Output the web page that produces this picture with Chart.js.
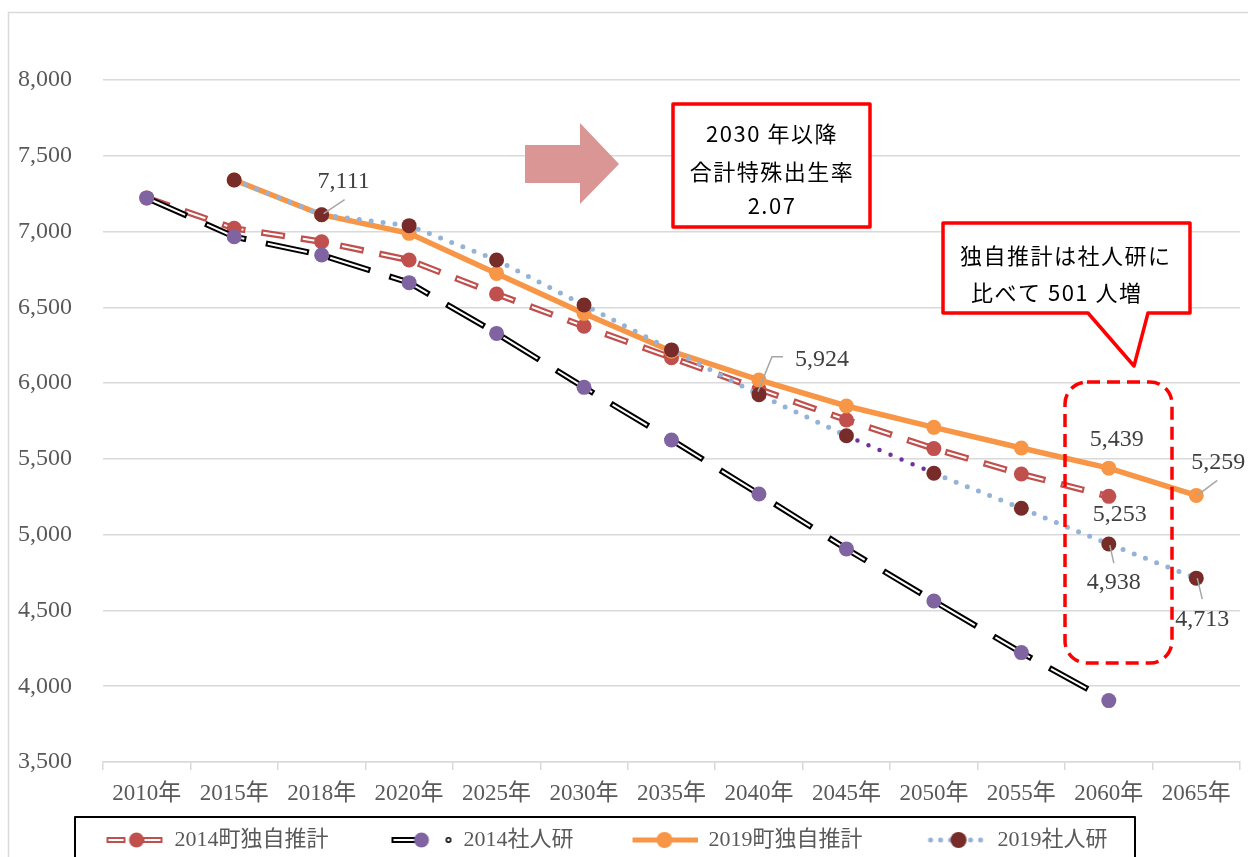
<!DOCTYPE html>
<html><head><meta charset="utf-8">
<script src="https://cdn.jsdelivr.net/npm/chart.js@4/dist/chart.umd.min.js"></script>
<style>html,body{margin:0;padding:0;background:#fff;} canvas{display:block;}</style>
</head><body>
<canvas id="c" width="1248" height="857"></canvas>
<script>
// ---------- data ----------
const categories = ['2010年','2015年','2018年','2020年','2025年','2030年','2035年','2040年','2045年','2050年','2055年','2060年','2065年'];
const seriesNames = ['2014町独自推計','2014社人研','2019町独自推計','2019社人研'];
const town2014 = [7222,7021,6933,6812,6588,6375,6168,5960,5757,5568,5400,5253,null];
const ipss2014 = [7222,6966,6845,6663,6328,5972,5625,5268,4906,4562,4222,3905,null];
const town2019 = [null,7340,7111,6988,6724,6460,6210,6021,5849,5708,5572,5439,5259];
const ipss2019 = [null,7340,7111,7039,6812,6515,6219,5924,5653,5405,5174,4938,4713];
const yMin = 3500, yMax = 8000, yStep = 500;
const boxText1 = ['2030 年以降','合計特殊出生率','2.07'];
const boxText2 = ['独自推計は社人研に','比べて 501 人増'];

// ---------- styles ----------
const C_RED = '#C0504D', C_PURPLE = '#8064A2', C_ORANGE = '#F79646', C_BLUE = '#95B3D7', C_DARK = '#772C2A', C_VIOLET = '#7030A0';
const SERIF = "'Liberation Serif', 'Noto Sans CJK JP', serif";
const SANS = "'Noto Sans CJK JP', sans-serif";
const ICON_W = 107;

function icon(contentW, draw) {
  const c = document.createElement('canvas'); c.width = ICON_W; c.height = 20;
  const g = c.getContext('2d'); g.translate(ICON_W - contentW, 0); draw(g); return c;
}
function dot(g, x, y, r, col) { g.beginPath(); g.arc(x, y, r, 0, Math.PI*2); g.fillStyle = col; g.fill(); }
const legendIcons = {
  1: icon(58, g => {
    g.strokeStyle = C_RED; g.lineWidth = 6;
    g.beginPath(); g.moveTo(1,10); g.lineTo(20,10); g.moveTo(37,10); g.lineTo(57,10); g.stroke();
    g.strokeStyle = '#fff'; g.lineWidth = 2;
    g.beginPath(); g.moveTo(3,10); g.lineTo(18,10); g.moveTo(39,10); g.lineTo(55,10); g.stroke();
    dot(g, 31, 10, 7.5, C_RED);
  }),
  3: icon(62, g => {
    g.strokeStyle = '#000'; g.lineWidth = 6;
    g.beginPath(); g.moveTo(1,10); g.lineTo(38,10); g.stroke();
    g.strokeStyle = '#fff'; g.lineWidth = 2;
    g.beginPath(); g.moveTo(3,10); g.lineTo(36,10); g.stroke();
    dot(g, 31, 10, 7.5, C_PURPLE);
    g.beginPath(); g.arc(58, 10, 2.2, 0, Math.PI*2); g.strokeStyle = '#000'; g.lineWidth = 1.5; g.stroke();
  }),
  4: icon(65, g => {
    g.strokeStyle = C_ORANGE; g.lineWidth = 5;
    g.beginPath(); g.moveTo(0,10); g.lineTo(65,10); g.stroke();
    dot(g, 32, 10, 8, C_ORANGE);
  }),
  5: icon(60, g => {
    [2,12,22,42,52].forEach(x => dot(g, x+2, 10, 2.5, C_BLUE));
    dot(g, 32, 10, 8, C_DARK);
  })
};

const labelSpecs = [
  {data: ipss2019, i: 2, dx: 22, dy: -33, leader: [[2,-1],[23,-15]]},
  {data: ipss2019, i: 7, dx: 63, dy: -35, leader: [[-1,-3],[13,-38],[24,-38]]},
  {data: town2019, i: 11, dx: 8, dy: -28},
  {data: town2014, i: 11, dx: 11, dy: 18},
  {data: ipss2019, i: 11, dx: 5, dy: 39, leader: [[1,1],[5,19]]},
  {data: town2019, i: 12, dx: 22, dy: -33, leader: [[1,0],[21,-15]]},
  {data: ipss2019, i: 12, dx: 6, dy: 42, leader: [[1,0],[6,21]]}
];

const decor = {
  id: 'decor',
  afterLayout(chart) {
    const lg = chart.legend;
    if (lg) { lg.left -= 38; lg.right -= 38; }
  },
  beforeDraw(chart) {
    const ctx = chart.ctx;
    ctx.save();
    ctx.fillStyle = '#fff'; ctx.fillRect(0, 0, chart.width, chart.height);
    ctx.strokeStyle = '#d9d9d9'; ctx.lineWidth = 1.5;
    ctx.strokeRect(8.5, 12.5, 1400, 1000);
    ctx.restore();
  },
  afterDraw(chart) {
    const ctx = chart.ctx, xs = chart.scales.x, ys = chart.scales.y;
    ctx.save();
    // value labels
    ctx.font = '24px ' + SERIF; ctx.textAlign = 'center'; ctx.textBaseline = 'middle';
    labelSpecs.forEach(s => {
      const px = xs.getPixelForValue(s.i), py = ys.getPixelForValue(s.data[s.i]);
      if (s.leader) {
        ctx.strokeStyle = '#A6A6A6'; ctx.lineWidth = 1.5; ctx.beginPath();
        s.leader.forEach((p, k) => k ? ctx.lineTo(px+p[0], py+p[1]) : ctx.moveTo(px+p[0], py+p[1]));
        ctx.stroke();
      }
      ctx.fillStyle = '#404040';
      ctx.fillText(s.data[s.i].toLocaleString('en-US'), px + s.dx, py + s.dy);
    });
    // arrow
    ctx.fillStyle = '#D99694';
    ctx.beginPath();
    [[525,145],[580,145],[580,123],[619,164],[580,204],[580,183],[525,183]].forEach((p,k)=> k?ctx.lineTo(p[0],p[1]):ctx.moveTo(p[0],p[1]));
    ctx.closePath(); ctx.fill();
    // text box 1
    ctx.fillStyle = '#fff'; ctx.strokeStyle = '#FF0000'; ctx.lineWidth = 3.5; ctx.lineJoin = 'round';
    ctx.fillRect(673, 104, 197, 123); ctx.strokeRect(673, 104, 197, 123);
    ctx.fillStyle = '#000'; ctx.font = '22px ' + SANS; ctx.textAlign = 'center';
    try { ctx.letterSpacing = '1.5px'; } catch(e) {}
    ctx.fillText(boxText1[0], 772, 134);
    ctx.fillText(boxText1[1], 772, 172);
    ctx.fillText(boxText1[2], 772, 206);
    // callout
    ctx.fillStyle = '#fff'; ctx.strokeStyle = '#FF0000';
    ctx.beginPath();
    [[943,223],[1190,223],[1190,313],[1148,313],[1134,366],[1088,313],[943,313]].forEach((p,k)=> k?ctx.lineTo(p[0],p[1]):ctx.moveTo(p[0],p[1]));
    ctx.closePath(); ctx.fill(); ctx.stroke();
    ctx.fillStyle = '#000'; ctx.textAlign = 'left';
    ctx.fillText(boxText2[0], 960, 256);
    ctx.fillText(boxText2[1], 971, 293);
    try { ctx.letterSpacing = '0px'; } catch(e) {}
    // dashed rounded rect
    ctx.setLineDash([13, 7]); ctx.lineWidth = 3.5; ctx.strokeStyle = '#FF0000';
    ctx.beginPath(); ctx.roundRect(1065, 382, 107, 281, 22); ctx.stroke();
    ctx.setLineDash([]);
    // legend frame
    ctx.strokeStyle = '#000'; ctx.lineWidth = 2;
    ctx.strokeRect(75, 817, 1060, 100);
    ctx.restore();
  }
};

const dsBase = { pointBorderWidth: 0, pointHoverRadius: 8, spanGaps: false, fill: false, tension: 0 };
const datasets = [
  Object.assign({}, dsBase, { label: '', data: town2014, borderColor: C_RED, borderWidth: 6.5, borderDash: [24,16], pointRadius: 0, order: 8 }),
  Object.assign({}, dsBase, { label: seriesNames[0], data: town2014, borderColor: '#fff', borderWidth: 2, borderDash: [20,20], borderDashOffset: -2, pointRadius: 7.5, pointBackgroundColor: C_RED, order: 7 }),
  Object.assign({}, dsBase, { label: '', data: ipss2014, borderColor: '#000', borderWidth: 6, borderDash: [44,20], pointRadius: 0, order: 6 }),
  Object.assign({}, dsBase, { label: seriesNames[1], data: ipss2014, borderColor: '#fff', borderWidth: 2, borderDash: [40,24], borderDashOffset: -2, pointRadius: 7.5, pointBackgroundColor: C_PURPLE, order: 5 }),
  Object.assign({}, dsBase, { label: seriesNames[2], data: town2019, borderColor: C_ORANGE, borderWidth: 5.5, pointRadius: 7.5, pointBackgroundColor: C_ORANGE, order: 4 }),
  Object.assign({}, dsBase, { label: seriesNames[3], data: ipss2019, borderColor: C_BLUE, borderWidth: 5, borderDash: [0, 12], borderCapStyle: 'round', pointRadius: 7.5, pointBackgroundColor: C_DARK, order: 3,
    segment: { borderColor: c => c.p0DataIndex === 8 ? C_VIOLET : undefined, borderWidth: c => c.p0DataIndex === 8 ? 4.5 : undefined } })
];

new Chart(document.getElementById('c'), {
  type: 'line',
  data: { labels: categories, datasets },
  options: {
    responsive: false, animation: false, devicePixelRatio: 1,
    layout: { padding: { left: 0, right: 8, top: 80, bottom: -4 } },
    plugins: {
      tooltip: { enabled: false },
      legend: {
        position: 'bottom',
        labels: {
          usePointStyle: true, pointStyleWidth: ICON_W, padding: 17, color: '#595959',
          font: { family: SERIF, size: 22 },
          generateLabels(chart) {
            const items = Chart.defaults.plugins.legend.labels.generateLabels(chart);
            return items.filter(it => chart.data.datasets[it.datasetIndex].label)
              .sort((a, b) => a.datasetIndex - b.datasetIndex)
              .map(it => Object.assign(it, { pointStyle: legendIcons[it.datasetIndex], fontColor: '#595959', lineWidth: 0 }));
          }
        }
      }
    },
    scales: {
      x: {
        offset: true,
        grid: { offset: true, drawOnChartArea: false, drawTicks: true, tickLength: 8, color: '#d9d9d9', lineWidth: 1.5 },
        border: { display: true, color: '#d9d9d9', width: 1.5 },
        ticks: { color: '#595959', font: { family: SERIF, size: 23 }, padding: 10, maxRotation: 0, autoSkip: false },
        afterFit: s => { const lg = s.chart.legend; s.height = Math.max(10, 861 - 762 - (lg ? lg.height : 0)); }
      },
      y: {
        min: yMin, max: yMax,
        grid: { color: '#d9d9d9', lineWidth: 1.5, drawTicks: false },
        border: { display: false },
        ticks: { stepSize: yStep, color: '#595959', font: { family: SERIF, size: 24 }, padding: 31,
          callback: v => Number(v).toLocaleString('en-US') },
        afterFit: s => { s.width = 103; }
      }
    }
  },
  plugins: [decor]
});
</script>
</body></html>
